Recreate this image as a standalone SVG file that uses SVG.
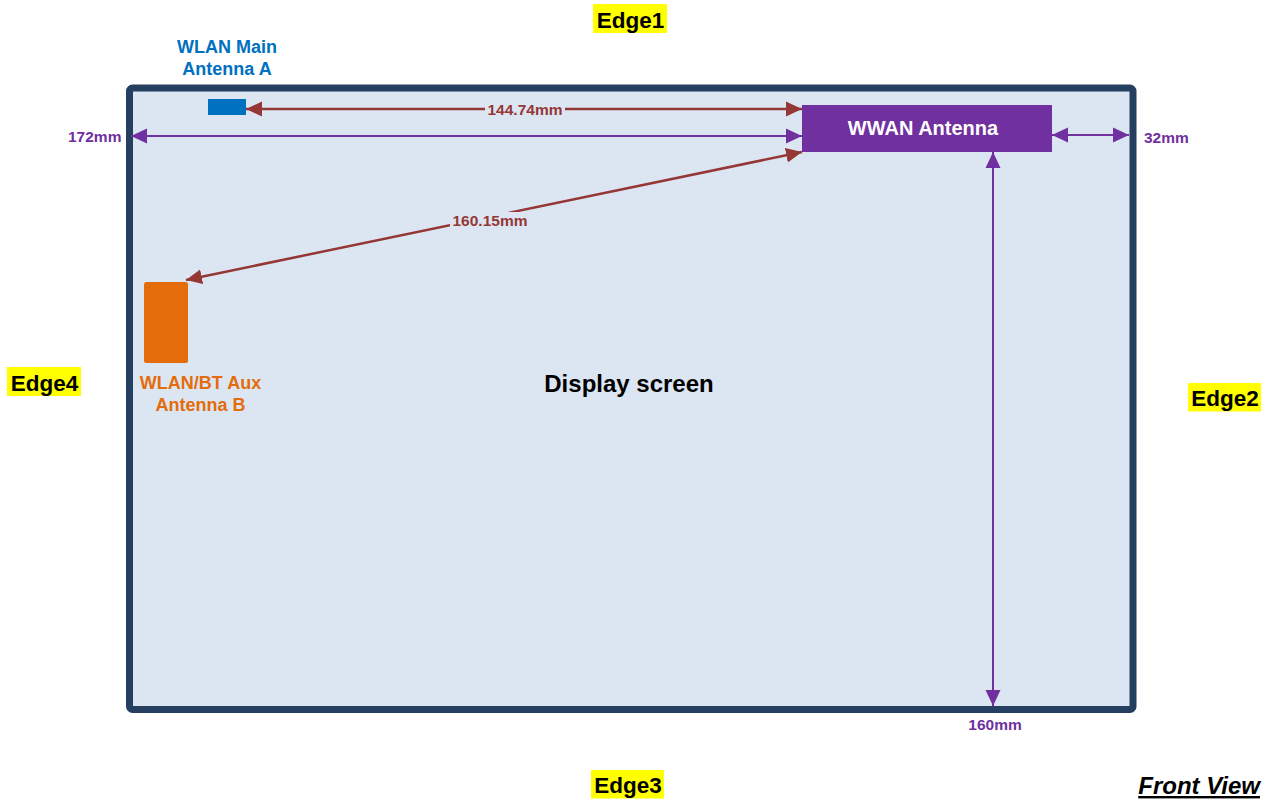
<svg xmlns="http://www.w3.org/2000/svg" width="1272" height="800" viewBox="0 0 1272 800">
<style>
text{font-family:"Liberation Sans",Arial,sans-serif;font-weight:bold}
.edge{font-size:22.5px;fill:#000}
.hl{fill:#FFFF00}
.red{stroke:#953735;stroke-width:2.5;fill:none}
.pur{stroke:#7030A0;stroke-width:2;fill:none}
.lr{fill:#953735;font-size:15.5px}
.lp{fill:#7030A0;font-size:15.5px}
.bg{fill:#DCE6F2}
</style>
<defs>
<marker id="ar" markerUnits="userSpaceOnUse" markerWidth="16" markerHeight="16" refX="16" refY="7.5" orient="auto-start-reverse" viewBox="0 0 16 15"><path d="M0,0 L16,7.5 L0,15 z" fill="#953735"/></marker>
<marker id="ap" markerUnits="userSpaceOnUse" markerWidth="16" markerHeight="16" refX="16" refY="7.5" orient="auto-start-reverse" viewBox="0 0 16 15"><path d="M0,0 L16,7.5 L0,15 z" fill="#7030A0"/></marker>
</defs>
<rect width="1272" height="800" fill="#fff"/>
<g id="display">
<rect x="129.5" y="88" width="1003.5" height="621.5" rx="3" fill="#DCE6F2" stroke="#243F60" stroke-width="7"/>
<text x="629" y="392" font-size="24" text-anchor="middle" fill="#000">Display screen</text>
</g>
<g id="edge1"><rect class="hl" x="593" y="4" width="74" height="29"/><text class="edge" x="630.5" y="28" text-anchor="middle">Edge1</text></g>
<g id="edge2"><rect class="hl" x="1188" y="383" width="73" height="28.5"/><text class="edge" x="1225" y="406" text-anchor="middle">Edge2</text></g>
<g id="edge3"><rect class="hl" x="591" y="770" width="73" height="28.5"/><text class="edge" x="628" y="793" text-anchor="middle">Edge3</text></g>
<g id="edge4"><rect class="hl" x="7" y="367" width="74" height="29"/><text class="edge" x="44.5" y="391" text-anchor="middle">Edge4</text></g>
<g id="front-view"><text x="1260" y="794" font-size="24" font-style="italic" text-decoration="underline" text-anchor="end" fill="#000">Front View</text></g>
<g id="connectors">
<line class="red" x1="246" y1="109" x2="802" y2="109" marker-start="url(#ar)" marker-end="url(#ar)"/>
<rect class="bg" x="485" y="101" width="80" height="16"/>
<text class="lr" x="525" y="114.5" text-anchor="middle">144.74mm</text>
<line class="pur" x1="131" y1="136" x2="802" y2="136" marker-start="url(#ap)" marker-end="url(#ap)"/>
<text class="lp" x="68" y="142">172mm</text>
<line class="red" x1="802" y1="152" x2="186" y2="280" marker-start="url(#ar)" marker-end="url(#ar)"/>
<rect class="bg" x="450" y="212" width="80" height="16"/>
<text class="lr" x="490" y="225.5" text-anchor="middle">160.15mm</text>
<line class="pur" x1="1052" y1="135" x2="1129" y2="135" marker-start="url(#ap)" marker-end="url(#ap)"/>
<text class="lp" x="1144" y="143">32mm</text>
<line class="pur" x1="993" y1="152" x2="993" y2="706" marker-start="url(#ap)" marker-end="url(#ap)"/>
<text class="lp" x="995" y="730" text-anchor="middle">160mm</text>
</g>
<g id="wlan-main">
<rect x="208" y="99" width="38" height="16" fill="#0070C0"/>
<text x="227" y="53" font-size="18" text-anchor="middle" fill="#0070C0">WLAN Main</text>
<text x="227" y="75" font-size="18" text-anchor="middle" fill="#0070C0">Antenna A</text>
</g>
<g id="wwan">
<rect x="802" y="105" width="250" height="47" fill="#7030A0"/>
<text x="923" y="135" font-size="20" text-anchor="middle" fill="#fff">WWAN Antenna</text>
</g>
<g id="wlan-aux">
<rect x="144" y="282" width="44" height="81" rx="2.5" fill="#E46C0A"/>
<text x="200.5" y="389" font-size="18" text-anchor="middle" fill="#E46C0A">WLAN/BT Aux</text>
<text x="200.5" y="411" font-size="18" text-anchor="middle" fill="#E46C0A">Antenna B</text>
</g>
</svg>
